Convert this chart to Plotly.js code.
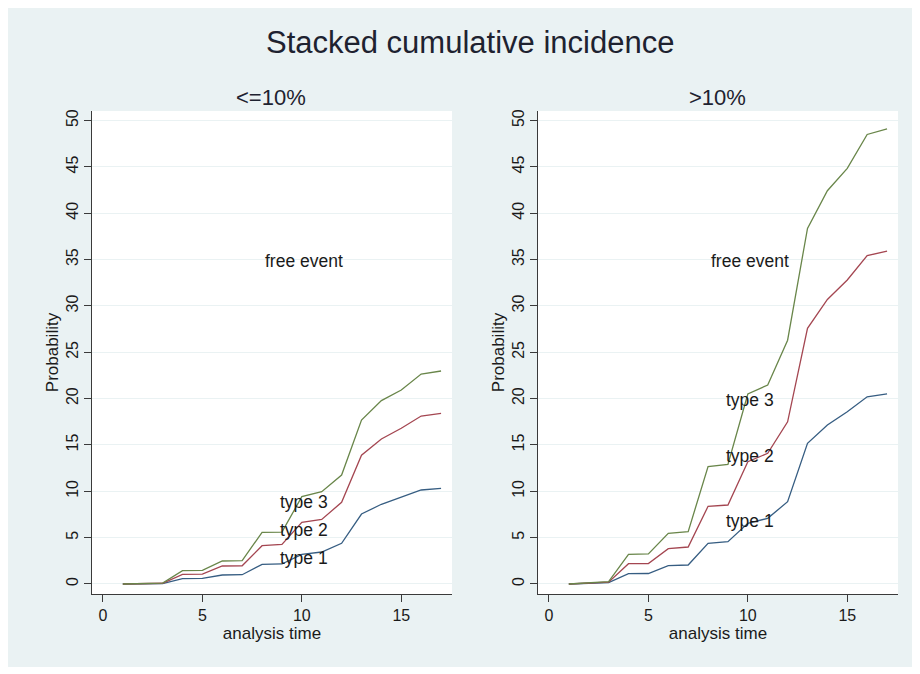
<!DOCTYPE html>
<html>
<head>
<meta charset="utf-8">
<script src="https://cdn.plot.ly/plotly-3.0.1.min.js"></script>
<style>
  html, body { margin: 0; padding: 0; background: #ffffff; }
  #chart { width: 920px; height: 674px; }
</style>
</head>
<body>
<div id="chart"></div>
<script>
// Analysis time points (shared by both groups)
const time = [1, 2, 3, 4, 5, 6, 7, 8, 9, 10, 11, 12, 13, 14, 15, 16, 17];

// Group "<=10%": stacked cumulative incidence (%)
const low_type1   = [0, 0.02, 0.05, 0.58, 0.60, 0.97, 1.00, 2.12, 2.16, 3.20, 3.45, 4.39, 7.55, 8.60, 9.35, 10.14, 10.32];
const low_type12  = [0, 0.03, 0.08, 1.04, 1.06, 1.94, 1.97, 4.13, 4.28, 6.65, 6.97, 8.81, 13.90, 15.64, 16.80, 18.12, 18.41];
const low_type123 = [0, 0.04, 0.10, 1.44, 1.47, 2.48, 2.52, 5.57, 5.60, 9.42, 9.96, 11.76, 17.69, 19.78, 20.93, 22.65, 22.98];

// Group ">10%": stacked cumulative incidence (%)
const high_type1   = [0, 0.05, 0.15, 1.11, 1.13, 1.98, 2.05, 4.39, 4.57, 6.55, 7.08, 8.88, 15.18, 17.15, 18.59, 20.20, 20.50];
const high_type12  = [0, 0.08, 0.20, 2.19, 2.21, 3.81, 3.99, 8.38, 8.52, 13.20, 14.10, 17.50, 27.58, 30.70, 32.80, 35.42, 35.92];
const high_type123 = [0, 0.10, 0.25, 3.20, 3.25, 5.47, 5.65, 12.66, 12.90, 20.50, 21.47, 26.30, 38.37, 42.43, 44.84, 48.50, 49.10];

// Panel titles and in-plot labels
const panelTitles = ["<=10%", ">10%"];
const regionLabels = ["type 1", "type 2", "type 3", "free event"];
const lowLabelY  = [2.85, 5.85, 8.9, 34.8];
const highLabelY = [6.85, 13.8, 19.85, 34.8];
const labelX = [8.8, 8.8, 8.8, 8.05];

const yTicks = [0, 5, 10, 15, 20, 25, 30, 35, 40, 45, 50];
const xTicks = [0, 5, 10, 15];

const W = 920, H = 674;
const px = v => v / W;           // pixel -> paper x
const py = v => 1 - v / H;       // pixel -> paper y

const FONT = "Liberation Sans, Arial, sans-serif";
const colors = ["#365d82", "#a44651", "#69864a"];

function line(x, y, color, xa, ya) {
  return {
    x: x, y: y, xaxis: xa, yaxis: ya, type: "scatter", mode: "lines",
    line: { color: color, width: 1.3 }, hoverinfo: "x+y", showlegend: false
  };
}

const traces = [
  line(time, low_type1,   colors[0], "x",  "y"),
  line(time, low_type12,  colors[1], "x",  "y"),
  line(time, low_type123, colors[2], "x",  "y"),
  line(time, high_type1,   colors[0], "x2", "y2"),
  line(time, high_type12,  colors[1], "x2", "y2"),
  line(time, high_type123, colors[2], "x2", "y2")
];

const xDom1 = [px(92), px(452)];
const xDom2 = [px(538), px(898)];
const yDom  = [py(594), py(111)];

function xAxis(domain, anchor) {
  return {
    domain: domain, anchor: anchor, range: [-0.55, 17.55],
    tickmode: "array", tickvals: xTicks,
    showgrid: false, zeroline: false,
    showline: true, linecolor: "#3a3a3a", linewidth: 1,
    ticks: "outside", ticklen: 7, tickcolor: "#3a3a3a", tickwidth: 1,
    tickfont: { family: FONT, size: 16, color: "#1a1a1a" },
    automargin: false,
    title: { text: "analysis time", font: { family: FONT, size: 17, color: "#1a1a1a" }, standoff: 0 }
  };
}

function yAxis(domain, anchor) {
  return {
    domain: domain, anchor: anchor, range: [-1.08, 51.03],
    tickmode: "array", tickvals: yTicks, tickangle: -90,
    showgrid: true, gridcolor: "#eaf2f3", gridwidth: 1,
    zeroline: false,
    showline: true, linecolor: "#3a3a3a", linewidth: 1,
    ticks: "outside", ticklen: 7, tickcolor: "#3a3a3a", tickwidth: 1,
    tickfont: { family: FONT, size: 16, color: "#1a1a1a" },
    automargin: false,
    title: { text: "Probability", font: { family: FONT, size: 17, color: "#1a1a1a" }, standoff: 0 }
  };
}

const annotations = [
  { text: "Stacked cumulative incidence", xref: "paper", yref: "paper",
    x: px(470), y: py(42), xanchor: "center", yanchor: "middle", showarrow: false,
    font: { family: FONT, size: 31, color: "#1e2230" } },
  { text: panelTitles[0], xref: "paper", yref: "paper",
    x: px(271), y: py(97), xanchor: "center", yanchor: "middle", showarrow: false,
    font: { family: FONT, size: 22, color: "#1e2230" } },
  { text: panelTitles[1], xref: "paper", yref: "paper",
    x: px(717), y: py(97), xanchor: "center", yanchor: "middle", showarrow: false,
    font: { family: FONT, size: 22, color: "#1e2230" } }
];

regionLabels.forEach((t, i) => {
  annotations.push({ text: t, xref: "x", yref: "y", x: labelX[i], y: lowLabelY[i],
    xanchor: "left", yanchor: "middle", showarrow: false,
    font: { family: FONT, size: 17.5, color: "#1a1a1a" } });
  annotations.push({ text: t, xref: "x2", yref: "y2", x: labelX[i], y: highLabelY[i],
    xanchor: "left", yanchor: "middle", showarrow: false,
    font: { family: FONT, size: 17.5, color: "#1a1a1a" } });
});

const layout = {
  width: W, height: H,
  margin: { l: 0, r: 0, t: 0, b: 0, pad: 0 },
  paper_bgcolor: "#ffffff",
  plot_bgcolor: "#ffffff",
  showlegend: false,
  xaxis: xAxis(xDom1, "y"),
  yaxis: yAxis(yDom, "x"),
  xaxis2: xAxis(xDom2, "y2"),
  yaxis2: yAxis(yDom, "x2"),
  annotations: annotations,
  shapes: [
    // graph region background
    { type: "rect", xref: "paper", yref: "paper", layer: "below",
      x0: px(8), x1: px(912), y0: py(667), y1: py(8),
      fillcolor: "#eaf2f3", line: { width: 0 } },
    // white plot regions
    { type: "rect", xref: "paper", yref: "paper", layer: "below",
      x0: xDom1[0], x1: xDom1[1], y0: yDom[0], y1: yDom[1],
      fillcolor: "#ffffff", line: { width: 0 } },
    { type: "rect", xref: "paper", yref: "paper", layer: "below",
      x0: xDom2[0], x1: xDom2[1], y0: yDom[0], y1: yDom[1],
      fillcolor: "#ffffff", line: { width: 0 } }
  ]
};

Plotly.newPlot("chart", traces, layout, { displayModeBar: false, staticPlot: true });
</script>
</body>
</html>
